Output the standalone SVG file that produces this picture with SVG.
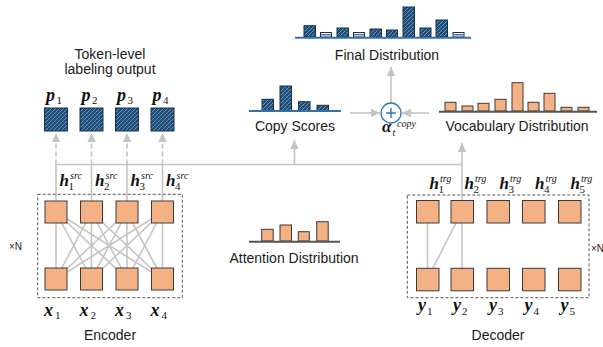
<svg xmlns="http://www.w3.org/2000/svg" width="603" height="347" viewBox="0 0 603 347">
  <style>
    .lbl { font-family: "Liberation Sans", Arial, sans-serif; font-size: 14px; fill: #1a1a1a; }
    .small { font-family: "Liberation Sans", Arial, sans-serif; font-size: 10px; fill: #1a1a1a; }
    .m { font-family: "Liberation Serif", "Times New Roman", serif; font-style: italic; font-weight: bold; font-size: 17px; fill: #111; }
    .mb { font-family: "Liberation Serif", "Times New Roman", serif; font-style: italic; font-weight: bold; font-size: 18px; fill: #111; }
    .sub { font-family: "Liberation Serif", "Times New Roman", serif; font-size: 11px; fill: #111; }
    .sup { font-family: "Liberation Serif", "Times New Roman", serif; font-style: italic; font-size: 10px; fill: #111; }
    .cell { fill: #F4B183; stroke: #3a3a3a; stroke-width: 1; }
    .bar { fill: #F4B183; stroke: #3a3a3a; stroke-width: 1; }
    .hbar { fill: url(#hatch); stroke: #17304f; stroke-width: 1; }
    .lowbar { fill: #ffffff; stroke: #17304f; stroke-width: 1; }
    .conn { stroke: #c4c4c4; stroke-width: 1.6; fill: none; }
    .dash { stroke: #c4c4c4; stroke-width: 1.6; fill: none; stroke-dasharray: 5 3; }
    .frame { fill: none; stroke: #555; stroke-width: 1; stroke-dasharray: 3 2; }
    .blueline { stroke: #3a6fa5; stroke-width: 2; }
    .grayline { stroke: #555; stroke-width: 2; }
  </style>
  <defs>
    <pattern id="hatch" patternUnits="userSpaceOnUse" width="4" height="4">
      <rect width="4" height="4" fill="#1F4E79"/>
      <path d="M-1,1 l2,-2 M0,4 l4,-4 M3,5 l2,-2" stroke="#7da3cc" stroke-width="0.8"/>
    </pattern>
    <marker id="arr" markerUnits="userSpaceOnUse" markerWidth="10" markerHeight="10" refX="9" refY="5" orient="auto">
      <path d="M0,0.8 L9,5 L0,9.2 Z" fill="#c4c4c4"/>
    </marker>
  </defs>

  <!-- connectors -->
  <g id="connectors">
    <!-- encoder self-attention links (centre to centre, boxes drawn over them) -->
    <g class="conn">
      <line x1="56" y1="212" x2="56" y2="279"/>
      <line x1="56" y1="212" x2="91.5" y2="279"/>
      <line x1="56" y1="212" x2="127" y2="279"/>
      <line x1="56" y1="212" x2="162.5" y2="279"/>
      <line x1="91.5" y1="212" x2="56" y2="279"/>
      <line x1="91.5" y1="212" x2="91.5" y2="279"/>
      <line x1="91.5" y1="212" x2="127" y2="279"/>
      <line x1="91.5" y1="212" x2="162.5" y2="279"/>
      <line x1="127" y1="212" x2="56" y2="279"/>
      <line x1="127" y1="212" x2="91.5" y2="279"/>
      <line x1="127" y1="212" x2="127" y2="279"/>
      <line x1="127" y1="212" x2="162.5" y2="279"/>
      <line x1="162.5" y1="212" x2="56" y2="279"/>
      <line x1="162.5" y1="212" x2="91.5" y2="279"/>
      <line x1="162.5" y1="212" x2="127" y2="279"/>
      <line x1="162.5" y1="212" x2="162.5" y2="279"/>
    </g>
    <!-- decoder masked links -->
    <g class="conn">
      <line x1="427.5" y1="211" x2="427.5" y2="279"/>
      <line x1="462" y1="211" x2="427.5" y2="279"/>
      <line x1="462" y1="211" x2="462" y2="279"/>
    </g>
    <!-- encoder outputs to shared bus -->
    <path class="conn" d="M56,201 V164.5 M91.5,201 V164.5 M127,201 V164.5 M162.5,201 V164.5 M56,164.5 H462"/>
    <!-- token-level outputs -->
    <line class="dash" x1="56" y1="164.5" x2="56" y2="133" marker-end="url(#arr)"/>
    <line class="dash" x1="91.5" y1="164.5" x2="91.5" y2="133" marker-end="url(#arr)"/>
    <line class="dash" x1="127" y1="164.5" x2="127" y2="133" marker-end="url(#arr)"/>
    <line class="dash" x1="162.5" y1="164.5" x2="162.5" y2="133" marker-end="url(#arr)"/>
    <!-- to copy scores -->
    <line class="conn" x1="294.5" y1="164.5" x2="294.5" y2="140" marker-end="url(#arr)"/>
    <!-- decoder state to vocabulary distribution -->
    <line class="conn" x1="462" y1="200" x2="462" y2="143" marker-end="url(#arr)"/>
    <!-- into the mixing node -->
    <line class="conn" x1="350" y1="113" x2="380" y2="113" marker-end="url(#arr)"/>
    <line class="conn" x1="429" y1="113" x2="402" y2="113" marker-end="url(#arr)"/>
    <line class="conn" x1="391" y1="103" x2="391" y2="67" marker-end="url(#arr)"/>
  </g>

  <!-- final distribution -->
  <g id="final-distribution">
    <rect class="hbar" x="304" y="25.7" width="11.5" height="11.3"/>
    <rect class="lowbar" x="320.5" y="32.5" width="11" height="4.5"/>
    <line x1="321" y1="34.8" x2="331" y2="34.8" stroke="#17304f" stroke-width="1"/>
    <rect class="hbar" x="337" y="28" width="11.5" height="9"/>
    <rect class="lowbar" x="353.5" y="32.5" width="11" height="4.5"/>
    <line x1="354" y1="34.8" x2="364" y2="34.8" stroke="#17304f" stroke-width="1"/>
    <rect class="hbar" x="370" y="29" width="11.5" height="8"/>
    <rect class="hbar" x="386.5" y="30" width="11" height="7"/>
    <rect class="hbar" x="403" y="7" width="11.5" height="30"/>
    <rect class="hbar" x="420" y="28" width="11" height="9"/>
    <rect class="hbar" x="436" y="20" width="11.5" height="17"/>
    <rect class="lowbar" x="453" y="32.5" width="11" height="4.5"/>
    <line x1="453.5" y1="34.8" x2="463.5" y2="34.8" stroke="#17304f" stroke-width="1"/>
    <line class="blueline" x1="295" y1="37.7" x2="471" y2="37.7"/>
    <text class="lbl" x="387" y="60" text-anchor="middle">Final Distribution</text>
  </g>

  <!-- copy scores -->
  <g id="copy-scores">
    <rect class="hbar" x="262" y="99.3" width="11.5" height="11.2"/>
    <rect class="hbar" x="280" y="86" width="11.5" height="24.5"/>
    <rect class="hbar" x="298.5" y="101.7" width="11.5" height="8.8"/>
    <rect class="hbar" x="317" y="105.3" width="11.5" height="5.2"/>
    <line class="blueline" x1="249" y1="111" x2="341" y2="111"/>
    <text class="lbl" x="295" y="131" text-anchor="middle">Copy Scores</text>
  </g>

  <!-- mixing node -->
  <g id="mix">
    <circle cx="391" cy="113" r="10" fill="#fff" stroke="#2e75b6" stroke-width="1.3"/>
    <path d="M386,113 H396 M391,108 V118" stroke="#2e75b6" stroke-width="1.4"/>
    <text class="m" x="382" y="132">α</text>
    <text class="sup" x="397" y="127" font-size="9">copy</text>
    <text class="sup" x="392.5" y="136" font-size="8">t</text>
  </g>

  <!-- vocabulary distribution -->
  <g id="vocabulary-distribution">
    <rect class="bar" x="445" y="102.3" width="11" height="8.7"/>
    <rect class="bar" x="462" y="106" width="11" height="5"/>
    <rect class="bar" x="478" y="103.3" width="11" height="7.7"/>
    <rect class="bar" x="495" y="99.3" width="11" height="11.7"/>
    <rect class="bar" x="512" y="82.7" width="11" height="28.3"/>
    <rect class="bar" x="528" y="102.3" width="11" height="8.7"/>
    <rect class="bar" x="544" y="93.3" width="11" height="17.7"/>
    <rect class="bar" x="561" y="107.3" width="11" height="3.7"/>
    <rect class="bar" x="578" y="107.3" width="11" height="3.7"/>
    <line class="grayline" x1="439" y1="111.7" x2="597" y2="111.7"/>
    <text class="lbl" x="517" y="131" text-anchor="middle">Vocabulary Distribution</text>
  </g>

  <!-- attention distribution -->
  <g id="attention-distribution">
    <rect class="bar" x="261.7" y="229.3" width="11.5" height="11.7"/>
    <rect class="bar" x="280" y="225" width="11.5" height="16"/>
    <rect class="bar" x="298.3" y="231.7" width="11" height="9.3"/>
    <rect class="bar" x="316.7" y="221.7" width="11.5" height="19.3"/>
    <line class="grayline" x1="249" y1="241.7" x2="340" y2="241.7"/>
    <text class="lbl" x="294" y="263" text-anchor="middle">Attention Distribution</text>
  </g>

  <!-- token-level labeling output -->
  <g id="labeling-output">
    <text class="lbl" x="110" y="59" text-anchor="middle">Token-level</text>
    <text class="lbl" x="110" y="74" text-anchor="middle">labeling output</text>
    <rect class="hbar" x="44.5" y="108" width="23" height="23"/>
    <rect class="hbar" x="80" y="108" width="23" height="23"/>
    <rect class="hbar" x="115.5" y="108" width="23" height="23"/>
    <rect class="hbar" x="151" y="108" width="23" height="23"/>
    <text class="mb" x="46" y="101">p</text><text class="sub" x="56.5" y="104">1</text>
    <text class="mb" x="81.5" y="101">p</text><text class="sub" x="92" y="104">2</text>
    <text class="mb" x="117" y="101">p</text><text class="sub" x="127.5" y="104">3</text>
    <text class="mb" x="152.5" y="101">p</text><text class="sub" x="163" y="104">4</text>
  </g>

  <!-- encoder -->
  <g id="encoder">
    <rect class="frame" x="37.7" y="194.3" width="144.6" height="103.4"/>
    <rect class="cell" x="45" y="201" width="22" height="22"/>
    <rect class="cell" x="80.5" y="201" width="22" height="22"/>
    <rect class="cell" x="116" y="201" width="22" height="22"/>
    <rect class="cell" x="151.5" y="201" width="22" height="22"/>
    <rect class="cell" x="45" y="268" width="22" height="22"/>
    <rect class="cell" x="80.5" y="268" width="22" height="22"/>
    <rect class="cell" x="116" y="268" width="22" height="22"/>
    <rect class="cell" x="151.5" y="268" width="22" height="22"/>
    <text class="m" x="59.5" y="186">h</text><text class="sub" x="68.5" y="190">1</text><text class="sup" x="70" y="179">src</text>
    <text class="m" x="95" y="186">h</text><text class="sub" x="104" y="190">2</text><text class="sup" x="105.5" y="179">src</text>
    <text class="m" x="130.5" y="186">h</text><text class="sub" x="139.5" y="190">3</text><text class="sup" x="141" y="179">src</text>
    <text class="m" x="166" y="186">h</text><text class="sub" x="175" y="190">4</text><text class="sup" x="176.5" y="179">src</text>
    <text class="small" x="9" y="250">×N</text>
    <text class="mb" x="44" y="316">x</text><text class="sub" x="55" y="319">1</text>
    <text class="mb" x="79.5" y="316">x</text><text class="sub" x="90.5" y="319">2</text>
    <text class="mb" x="115" y="316">x</text><text class="sub" x="126" y="319">3</text>
    <text class="mb" x="150.5" y="316">x</text><text class="sub" x="161.5" y="319">4</text>
    <text class="lbl" x="110" y="340" text-anchor="middle">Encoder</text>
  </g>

  <!-- decoder -->
  <g id="decoder">
    <rect class="frame" x="407.3" y="195" width="181.7" height="102.7"/>
    <rect class="cell" x="416.5" y="200.5" width="22.5" height="22.5"/>
    <rect class="cell" x="451" y="200.5" width="22.5" height="22.5"/>
    <rect class="cell" x="487" y="200.5" width="22.5" height="22.5"/>
    <rect class="cell" x="522.5" y="200.5" width="22.5" height="22.5"/>
    <rect class="cell" x="558.5" y="200.5" width="22.5" height="22.5"/>
    <rect class="cell" x="416.5" y="268.3" width="22.5" height="22.5"/>
    <rect class="cell" x="451" y="268.3" width="22.5" height="22.5"/>
    <rect class="cell" x="487" y="268.3" width="22.5" height="22.5"/>
    <rect class="cell" x="522.5" y="268.3" width="22.5" height="22.5"/>
    <rect class="cell" x="558.5" y="268.3" width="22.5" height="22.5"/>
    <text class="m" x="429.5" y="189">h</text><text class="sub" x="438.5" y="193">1</text><text class="sup" x="440" y="182">trg</text>
    <text class="m" x="464.5" y="189">h</text><text class="sub" x="473.5" y="193">2</text><text class="sup" x="475" y="182">trg</text>
    <text class="m" x="499.5" y="189">h</text><text class="sub" x="508.5" y="193">3</text><text class="sup" x="510" y="182">trg</text>
    <text class="m" x="535" y="189">h</text><text class="sub" x="544" y="193">4</text><text class="sup" x="545.5" y="182">trg</text>
    <text class="m" x="570.5" y="189">h</text><text class="sub" x="579.5" y="193">5</text><text class="sup" x="581" y="182">trg</text>
    <text class="small" x="591" y="252">×N</text>
    <text class="mb" x="418" y="310.5">y</text><text class="sub" x="427" y="314.5">1</text>
    <text class="mb" x="453" y="310.5">y</text><text class="sub" x="462" y="314.5">2</text>
    <text class="mb" x="489" y="310.5">y</text><text class="sub" x="498" y="314.5">3</text>
    <text class="mb" x="524.5" y="310.5">y</text><text class="sub" x="533.5" y="314.5">4</text>
    <text class="mb" x="560.5" y="310.5">y</text><text class="sub" x="569.5" y="314.5">5</text>
    <text class="lbl" x="498" y="340" text-anchor="middle">Decoder</text>
  </g>
</svg>
